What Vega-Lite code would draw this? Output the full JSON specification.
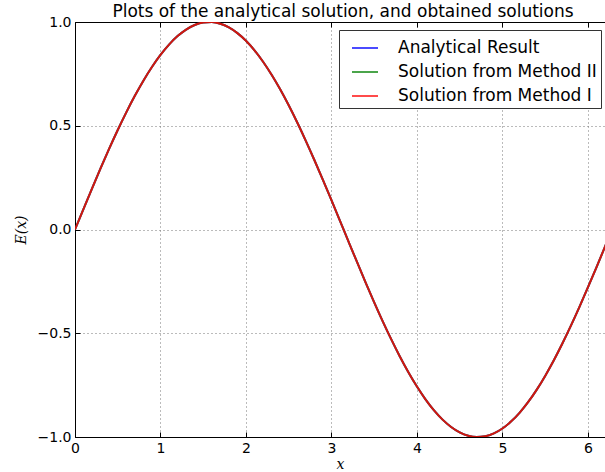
{
  "$schema": "https://vega.github.io/schema/vega-lite/v6.json",
  "autosize": "none",
  "width": 530,
  "height": 415,
  "padding": {"left": 75, "top": 22, "right": 0, "bottom": 35},
  "background": "white",
  "config": {
    "view": {"stroke": null},
    "font": "DejaVu Sans",
    "axis": {
      "domainColor": "#000000",
      "domainWidth": 1,
      "tickColor": "#000000",
      "tickSize": -5,
      "labelColor": "#000000",
      "labelFont": "DejaVu Sans",
      "labelFontSize": 14,
      "labelFlush": false,
      "gridColor": "#777777",
      "gridDash": [1, 3],
      "gridWidth": 1,
      "gridOpacity": 1
    }
  },
  "title": {
    "text": "Plots of the analytical solution, and obtained solutions",
    "font": "DejaVu Sans",
    "fontSize": 17,
    "fontWeight": "normal",
    "color": "#000000",
    "anchor": "middle",
    "dx": 3,
    "dy": 12,
    "offset": 6
  },
  "data": {
    "values": [
      {"x": 0.0, "analytical": 0.0, "method2": 0.0, "method1": 0.0},
      {"x": 0.1, "analytical": 0.0998, "method2": 0.0998, "method1": 0.0998},
      {"x": 0.2, "analytical": 0.1987, "method2": 0.1987, "method1": 0.1987},
      {"x": 0.3, "analytical": 0.2955, "method2": 0.2955, "method1": 0.2955},
      {"x": 0.4, "analytical": 0.3894, "method2": 0.3894, "method1": 0.3894},
      {"x": 0.5, "analytical": 0.4794, "method2": 0.4794, "method1": 0.4794},
      {"x": 0.6, "analytical": 0.5646, "method2": 0.5646, "method1": 0.5646},
      {"x": 0.7, "analytical": 0.6442, "method2": 0.6442, "method1": 0.6442},
      {"x": 0.8, "analytical": 0.7174, "method2": 0.7174, "method1": 0.7174},
      {"x": 0.9, "analytical": 0.7833, "method2": 0.7833, "method1": 0.7833},
      {"x": 1.0, "analytical": 0.8415, "method2": 0.8415, "method1": 0.8415},
      {"x": 1.1, "analytical": 0.8912, "method2": 0.8912, "method1": 0.8912},
      {"x": 1.2, "analytical": 0.932, "method2": 0.932, "method1": 0.932},
      {"x": 1.3, "analytical": 0.9636, "method2": 0.9636, "method1": 0.9636},
      {"x": 1.4, "analytical": 0.9854, "method2": 0.9854, "method1": 0.9854},
      {"x": 1.5, "analytical": 0.9975, "method2": 0.9975, "method1": 0.9975},
      {"x": 1.6, "analytical": 0.9996, "method2": 0.9996, "method1": 0.9996},
      {"x": 1.7, "analytical": 0.9917, "method2": 0.9917, "method1": 0.9917},
      {"x": 1.8, "analytical": 0.9738, "method2": 0.9738, "method1": 0.9738},
      {"x": 1.9, "analytical": 0.9463, "method2": 0.9463, "method1": 0.9463},
      {"x": 2.0, "analytical": 0.9093, "method2": 0.9093, "method1": 0.9093},
      {"x": 2.1, "analytical": 0.8632, "method2": 0.8632, "method1": 0.8632},
      {"x": 2.2, "analytical": 0.8085, "method2": 0.8085, "method1": 0.8085},
      {"x": 2.3, "analytical": 0.7457, "method2": 0.7457, "method1": 0.7457},
      {"x": 2.4, "analytical": 0.6755, "method2": 0.6755, "method1": 0.6755},
      {"x": 2.5, "analytical": 0.5985, "method2": 0.5985, "method1": 0.5985},
      {"x": 2.6, "analytical": 0.5155, "method2": 0.5155, "method1": 0.5155},
      {"x": 2.7, "analytical": 0.4274, "method2": 0.4274, "method1": 0.4274},
      {"x": 2.8, "analytical": 0.335, "method2": 0.335, "method1": 0.335},
      {"x": 2.9, "analytical": 0.2392, "method2": 0.2392, "method1": 0.2392},
      {"x": 3.0, "analytical": 0.1411, "method2": 0.1411, "method1": 0.1411},
      {"x": 3.1, "analytical": 0.0416, "method2": 0.0416, "method1": 0.0416},
      {"x": 3.2, "analytical": -0.0584, "method2": -0.0584, "method1": -0.0584},
      {"x": 3.3, "analytical": -0.1577, "method2": -0.1577, "method1": -0.1577},
      {"x": 3.4, "analytical": -0.2555, "method2": -0.2555, "method1": -0.2555},
      {"x": 3.5, "analytical": -0.3508, "method2": -0.3508, "method1": -0.3508},
      {"x": 3.6, "analytical": -0.4425, "method2": -0.4425, "method1": -0.4425},
      {"x": 3.7, "analytical": -0.5298, "method2": -0.5298, "method1": -0.5298},
      {"x": 3.8, "analytical": -0.6119, "method2": -0.6119, "method1": -0.6119},
      {"x": 3.9, "analytical": -0.6878, "method2": -0.6878, "method1": -0.6878},
      {"x": 4.0, "analytical": -0.7568, "method2": -0.7568, "method1": -0.7568},
      {"x": 4.1, "analytical": -0.8183, "method2": -0.8183, "method1": -0.8183},
      {"x": 4.2, "analytical": -0.8716, "method2": -0.8716, "method1": -0.8716},
      {"x": 4.3, "analytical": -0.9162, "method2": -0.9162, "method1": -0.9162},
      {"x": 4.4, "analytical": -0.9516, "method2": -0.9516, "method1": -0.9516},
      {"x": 4.5, "analytical": -0.9775, "method2": -0.9775, "method1": -0.9775},
      {"x": 4.6, "analytical": -0.9937, "method2": -0.9937, "method1": -0.9937},
      {"x": 4.7, "analytical": -0.9999, "method2": -0.9999, "method1": -0.9999},
      {"x": 4.8, "analytical": -0.9962, "method2": -0.9962, "method1": -0.9962},
      {"x": 4.9, "analytical": -0.9825, "method2": -0.9825, "method1": -0.9825},
      {"x": 5.0, "analytical": -0.9589, "method2": -0.9589, "method1": -0.9589},
      {"x": 5.1, "analytical": -0.9258, "method2": -0.9258, "method1": -0.9258},
      {"x": 5.2, "analytical": -0.8835, "method2": -0.8835, "method1": -0.8835},
      {"x": 5.3, "analytical": -0.8323, "method2": -0.8323, "method1": -0.8323},
      {"x": 5.4, "analytical": -0.7728, "method2": -0.7728, "method1": -0.7728},
      {"x": 5.5, "analytical": -0.7055, "method2": -0.7055, "method1": -0.7055},
      {"x": 5.6, "analytical": -0.6313, "method2": -0.6313, "method1": -0.6313},
      {"x": 5.7, "analytical": -0.5507, "method2": -0.5507, "method1": -0.5507},
      {"x": 5.8, "analytical": -0.4646, "method2": -0.4646, "method1": -0.4646},
      {"x": 5.9, "analytical": -0.3739, "method2": -0.3739, "method1": -0.3739},
      {"x": 6.0, "analytical": -0.2794, "method2": -0.2794, "method1": -0.2794},
      {"x": 6.1, "analytical": -0.1822, "method2": -0.1822, "method1": -0.1822},
      {"x": 6.2, "analytical": -0.0831, "method2": -0.0831, "method1": -0.0831},
      {"x": 6.2832, "analytical": 0.0, "method2": 0.0, "method1": 0.0}
    ]
  },
  "layer": [
    {
      "mark": {"type": "line", "strokeWidth": 2, "opacity": 0.7, "clip": true, "interpolate": "monotone"},
      "encoding": {
        "x": {
          "field": "x", "type": "quantitative",
          "scale": {"domain": [0, 6.2], "nice": false, "zero": false},
          "axis": {
            "orient": "bottom", "values": [0, 1, 2, 3, 4, 5, 6], "format": "d",
            "grid": true, "labelPadding": 9, "labelFontSize": 14,
            "title": "x", "titleFont": "DejaVu Serif", "titleFontStyle": "italic",
            "titleFontWeight": "normal", "titleFontSize": 14, "titlePadding": 2, "titleColor": "#000000"
          }
        },
        "y": {
          "field": "analytical", "type": "quantitative",
          "scale": {"domain": [-1, 1], "nice": false, "zero": false},
          "axis": {
            "values": [-1, -0.5, 0, 0.5, 1], "format": ".1f", "grid": true,
            "labelPadding": 9, "labelFontSize": 14,
            "title": "E(x)", "titleFont": "DejaVu Serif", "titleFontStyle": "italic",
            "titleFontWeight": "normal", "titleFontSize": 14, "titlePadding": 9, "titleColor": "#000000"
          }
        },
        "color": {
          "datum": "Analytical Result", "type": "nominal",
          "scale": {
            "domain": ["Analytical Result", "Solution from Method II", "Solution from Method I"],
            "range": ["#0000ff", "#008000", "#ff0000"]
          },
          "legend": {
            "title": null,
            "orient": "none",
            "legendX": 264,
            "legendY": 8,
            "direction": "vertical",
            "symbolType": "stroke",
            "symbolSize": 676,
            "symbolStrokeWidth": 2,
            "symbolOpacity": 0.62,
            "symbolOffset": 8,
            "labelFont": "DejaVu Sans",
            "labelFontSize": 17,
            "labelColor": "#000000",
            "labelOffset": 19,
            "rowPadding": 2,
            "padding": 4,
            "strokeColor": "#333333",
            "fillColor": "#ffffff",
            "labelLimit": 400
          }
        }
      }
    },
    {
      "mark": {"type": "line", "strokeWidth": 2, "opacity": 0.7, "clip": true, "interpolate": "monotone"},
      "encoding": {
        "x": {
          "field": "x", "type": "quantitative",
          "axis": {
            "orient": "top", "values": [0, 1, 2, 3, 4, 5, 6], "labels": false,
            "grid": false, "title": null
          }
        },
        "y": {"field": "method2", "type": "quantitative"},
        "color": {"datum": "Solution from Method II", "type": "nominal"}
      }
    },
    {
      "mark": {"type": "line", "strokeWidth": 2, "opacity": 0.8, "clip": true, "interpolate": "monotone"},
      "encoding": {
        "x": {"field": "x", "type": "quantitative", "axis": null},
        "y": {"field": "method1", "type": "quantitative"},
        "color": {"datum": "Solution from Method I", "type": "nominal"}
      }
    }
  ],
  "resolve": {"axis": {"x": "independent"}}
}
